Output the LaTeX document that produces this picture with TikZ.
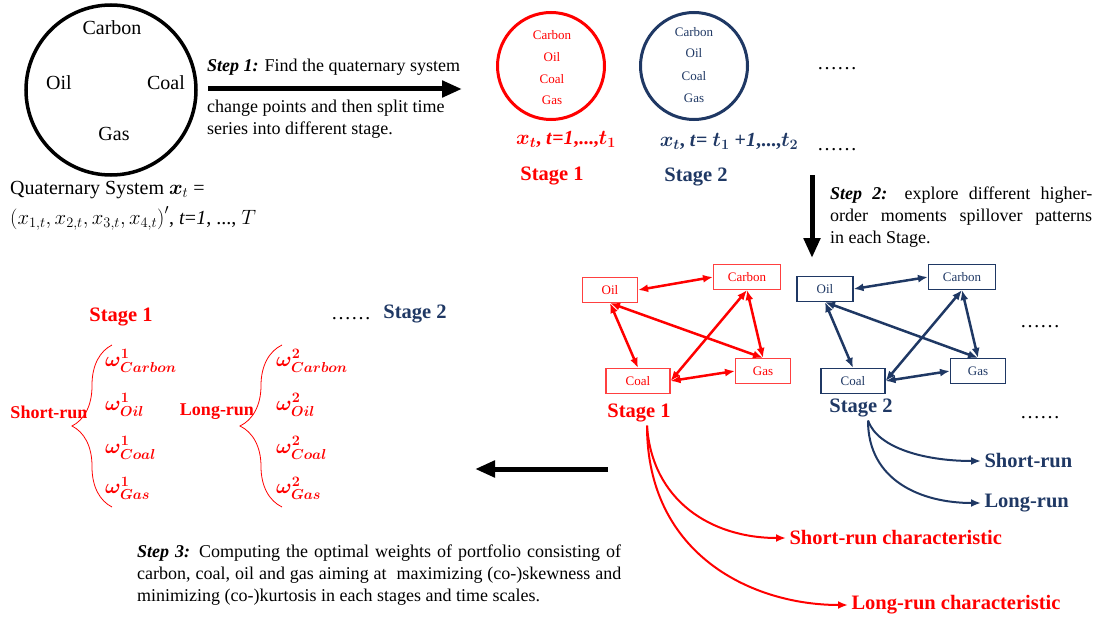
\documentclass[tikz,border=0pt]{standalone}
\usepackage{fontspec}
\setmainfont{Liberation Serif}
\usepackage{amsmath}
\usepackage{bm}
\usetikzlibrary{arrows.meta,decorations.pathreplacing,positioning}
\definecolor{navy}{RGB}{31,56,100}
\tikzset{>={Latex[length=10pt,width=8pt]}}
\tikzset{
  labelfont/.style={font=\fontsize{20}{24}\selectfont},
  stepfont/.style={font=\fontsize{18}{22}\selectfont},
  boxfont/.style={font=\fontsize{13}{15}\selectfont},
  stagelbl/.style={font=\fontsize{20.5}{24}\selectfont\bfseries},
  redbox/.style={draw=red!75, line width=1.1pt, text=red, boxfont, minimum height=25pt},
  bluebox/.style={draw=navy, line width=1.1pt, text=navy, boxfont, minimum height=25pt},
  bigarrow/.style={line width=5pt, -{Triangle[length=20pt,width=16pt]}},
  wlbl/.style={font=\fontsize{20}{24}\selectfont, text=red, anchor=west, inner sep=0pt},
  curl/.style={red, line width=0.8pt, decorate, decoration={brace, amplitude=#1}}
}

\begin{document}
\begin{tikzpicture}[x=1pt,y=-1pt]
  \useasboundingbox (0,0) rectangle (1097,623);

  % quaternary system
  \node[draw, circle, line width=3.5pt, minimum size=170pt] (sys) at (111,90) {};
  \node[labelfont] (carb0) at (112,28) {Carbon};
  \node[labelfont] (oil0) at (59,83) {Oil};
  \node[labelfont] (coal0) at (166,83) {Coal};
  \node[labelfont] (gas0) at (114,134) {Gas};
  \node[labelfont, anchor=west, inner sep=0pt] (qs) at (10,190) {Quaternary System $\bm{x}_t$ =};
  \node[labelfont, anchor=west, inner sep=0pt] (qsvec) at (10,218)
    {$\left(x_{1,t},x_{2,t},x_{3,t},x_{4,t}\right)'$, \textit{t}=\textit{1}, ..., $T$};

  % step 1
  \coordinate (s1a) at (208,89);
  \coordinate (s1b) at (462,89);
  \draw[bigarrow] (s1a) -- (s1b);
  \node[stepfont, anchor=west, inner sep=0pt] (step1) at (207,67) {\textbf{\textit{Step 1:}} Find the quaternary system};
  \node[stepfont, anchor=north west, align=left, inner sep=0pt] (step1b) at (207,100)
    {change points and then split time\\series into different stage.};

  % stages after splitting
  \node[draw=red, circle, line width=3pt, minimum size=107pt] (circ1) at (551,66) {};
  \node[draw=navy, circle, line width=3pt, minimum size=107pt] (circ2) at (694,66) {};
  \foreach \t/\y in {Carbon/35,Oil/57,Coal/79,Gas/100}
    \node[boxfont, text=red] at (552,\y) {\t};
  \foreach \t/\y in {Carbon/32,Oil/53,Coal/76,Gas/98}
    \node[boxfont, text=navy] at (694,\y) {\t};
  \node[labelfont, text=red] (xt1) at (566,139) {\textbf{$\bm{x_t}$, \textit{t}=\textit{1},...,$\bm{t_1}$}};
  \node[labelfont, text=navy] (xt2) at (729,141) {\textbf{$\bm{x_t}$, \textit{t}= $\bm{t_1}$ +\textit{1},...,$\bm{t_2}$}};
  \node[stagelbl, text=red] (top1) at (552,176) {Stage 1};
  \node[stagelbl, text=navy] (top2) at (696,177) {Stage 2};
  \node[labelfont, anchor=base] (dots1) at (837,70) {\ldots\ldots};
  \node[labelfont, anchor=base] (dots2) at (837,150) {\ldots\ldots};

  % step 2
  \coordinate (s2a) at (812,175);
  \coordinate (s2b) at (812,258);
  \draw[bigarrow] (s2a) -- (s2b);
  \node[stepfont, anchor=north west, text width=262pt, align=justify, inner sep=0pt] (step2) at (830,187)
    {\textbf{\textit{Step 2:}} explore different higher-\linebreak order moments spillover patterns\linebreak in each Stage.};

  % spillover networks
  \node[redbox, minimum width=55pt] (oil1) at (610,290) {Oil};
  \node[redbox, minimum width=67pt] (carbon1) at (747,277) {Carbon};
  \node[redbox, minimum width=64pt] (coal1) at (638,381) {Coal};
  \node[redbox, minimum width=55pt] (gas1) at (763,371) {Gas};
  \node[bluebox, minimum width=56pt] (oil2) at (825,289) {Oil};
  \node[bluebox, minimum width=67pt] (carbon2) at (962,277) {Carbon};
  \node[bluebox, minimum width=64pt] (coal2) at (853,381) {Coal};
  \node[bluebox, minimum width=55pt] (gas2) at (978,371) {Gas};
  \foreach \n/\c in {1/red,2/navy}{
    \draw[\c, line width=2.5pt, <->] (oil\n.east) -- (carbon\n.west);
    \draw[\c, line width=2.5pt, <->] (oil\n.south) -- (coal\n.north);
    \draw[\c, line width=2.5pt, <->] (oil\n.south) -- (gas\n.north);
    \draw[\c, line width=2.5pt, <->] (carbon\n.south) -- (coal\n.east);
    \draw[\c, line width=2.5pt, <->] (carbon\n.south) -- (gas\n.north);
    \draw[\c, line width=2.5pt, <->] (coal\n.east) -- (gas\n.west);
  }
  \node[stagelbl, text=red] (st1) at (639,413) {Stage 1};
  \node[stagelbl, text=navy] (st2) at (861,408) {Stage 2};
  \node[labelfont, anchor=base] (dots3) at (1040,327) {\ldots\ldots};
  \node[labelfont, anchor=base] (dots4) at (1040,418) {\ldots\ldots};

  % time scales
  \node[stagelbl, text=red, anchor=west] (srchar) at (786,538) {Short-run characteristic};
  \node[stagelbl, text=red, anchor=west] (lrchar) at (848,605) {Long-run characteristic};
  \node[stagelbl, text=navy, anchor=west] (sr2) at (981,461) {Short-run};
  \node[stagelbl, text=navy, anchor=west] (lr2) at (981,503) {Long-run};
  \draw[red, line width=2pt, ->] ([xshift=8pt]st1.south) .. controls +(5,75) and +(-75,0) .. (srchar.west);
  \draw[red, line width=2pt, ->] ([xshift=8pt]st1.south) .. controls +(0,130) and +(-95,0) .. (lrchar.west);
  \draw[navy, line width=2pt, ->] ([xshift=7pt]st2.south) .. controls +(10,28) and +(-55,0) .. (sr2.west);
  \draw[navy, line width=2pt, ->] ([xshift=7pt]st2.south) .. controls +(0,60) and +(-60,0) .. (lr2.west);

  % step 3
  \coordinate (s3a) at (608,469);
  \coordinate (s3b) at (475,469);
  \draw[bigarrow] (s3a) -- (s3b);

  % portfolio weights
  \node[stagelbl, text=red] (wst1) at (121,317) {Stage 1};
  \node[labelfont, anchor=base] (dots5) at (351,319) {\ldots\ldots};
  \node[stagelbl, text=navy] (wst2) at (415,314) {Stage 2};
  \node[stagelbl, text=red, font=\fontsize{18}{22}\selectfont\bfseries] (srun) at (49,412) {Short-run};
  \node[stagelbl, text=red, font=\fontsize{18}{22}\selectfont\bfseries] (lrun) at (217,412) {Long-run};
  \draw[curl=40pt] (112,507) -- (112,345);
  \draw[curl=42pt] (282,507) -- (282,345);
  \foreach \t/\y in {Carbon/361,Oil/405,Coal/448,Gas/488}{
    \node[wlbl] at (105,\y) {$\bm{\omega^{1}_{\t}}$};
    \node[wlbl] at (276,\y) {$\bm{\omega^{2}_{\t}}$};
  }
  \node[stepfont, anchor=north west, text width=484pt, align=justify, inner sep=0pt] (step3) at (137,545)
    {\textbf{\textit{Step 3:}} Computing the optimal weights of portfolio consisting of\linebreak carbon, coal, oil and gas aiming at\ \ maximizing (co-)skewness and\linebreak minimizing (co-)kurtosis in each stages and time scales.};
\end{tikzpicture}
\end{document}
